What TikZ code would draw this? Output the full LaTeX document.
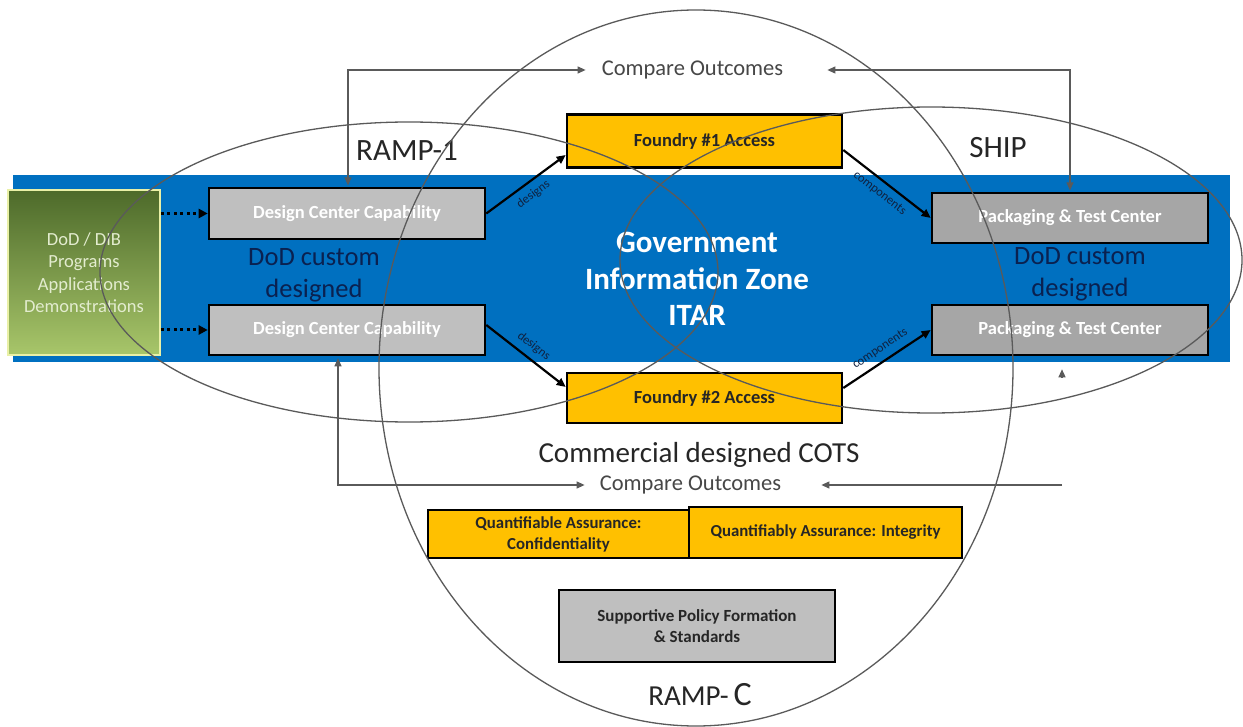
\documentclass[tikz,border=0pt]{standalone}
\usepackage{fontspec}
\setmainfont{Carlito}
\usetikzlibrary{arrows.meta,calc}
\definecolor{zoneblue}{HTML}{0070C0}
\definecolor{lgray}{HTML}{BFBFBF}
\definecolor{mgray}{HTML}{A6A6A6}
\definecolor{gold}{HTML}{FFC000}
\definecolor{navy}{HTML}{0A2150}
\definecolor{dkgreen}{HTML}{4D6A2A}
\definecolor{ltgreen}{HTML}{A8C66A}
\definecolor{pale}{HTML}{E3ECCF}
\definecolor{ink}{HTML}{262626}
\definecolor{lineg}{HTML}{5A5A5A}
\definecolor{lblc}{HTML}{10213F}
\begin{document}
\begin{tikzpicture}[x=1pt,y=-1pt,
  box/.style={draw=black, line width=2.6pt, inner sep=0pt, align=center,
    font=\bfseries\fontsize{18.5}{21}\selectfont},
  graybox/.style={box, fill=lgray, text=white},
  darkbox/.style={box, fill=mgray, text=white},
  goldbox/.style={box, fill=gold, text=ink},
  qbox/.style={box, line width=1.8pt, fill=gold, text=ink, font=\bfseries\fontsize{16.8}{21}\selectfont},
  polbox/.style={box, fill=lgray, text=ink, font=\bfseries\fontsize{17}{21}\selectfont},
  conn/.style={line width=2.2pt, draw=black, -{Triangle[length=9pt,width=8pt]}},
  dotarr/.style={line width=3pt, draw=black, dash pattern=on 3pt off 3.5pt, -{Triangle[length=9pt,width=9pt]}},
  garr/.style={line width=1.2pt, draw=lineg, {Triangle[length=8pt,width=7pt]}-{Triangle[length=8pt,width=7pt]}},
  garrone/.style={line width=1.2pt, draw=lineg, -{Triangle[length=8pt,width=7pt]}},
  ell/.style={draw=lineg, line width=1.3pt},
  lbl/.style={font=\fontsize{12.5}{13}\selectfont, text=lblc, inner sep=1pt},
  big/.style={font=\fontsize{31}{36}\selectfont, text=ink},
  cmp/.style={font=\fontsize{22.5}{26}\selectfont, text=ink!85, inner sep=0pt},
  dod/.style={font=\fontsize{26.5}{32}\selectfont, text=navy, align=center},
]
\useasboundingbox (0,0) rectangle (1243,727);
\fill[white] (0,0) rectangle (1243,727);

% blue zone
\node[fill=zoneblue, minimum width=1217pt, minimum height=187pt, inner sep=0pt] (zone) at (621.5,268.5) {};
\node[text=white, font=\bfseries\fontsize{31}{36.5}\selectfont, align=center] (gov) at (697,279) {Government\\Information Zone\\ITAR};

% green box
\node[draw=pale!80!yellow, line width=1.5pt, top color=dkgreen, middle color=dkgreen, bottom color=ltgreen,
      minimum width=152pt, minimum height=165pt, inner sep=0pt, align=center, text=pale,
      font=\fontsize{18.5}{22.5}\selectfont] (prog) at (84,272.5) {DoD / DIB\\Programs\\Applications\\Demonstrations};

% boxes
\node[graybox, minimum width=276pt, minimum height=51pt] (dc1) at (347,213.5) {Design Center Capability};
\node[graybox, minimum width=276pt, minimum height=50pt] (dc2) at (347,330) {Design Center Capability};
\node[goldbox, minimum width=275pt, minimum height=53pt] (f1) at (704.5,141) {Foundry \#1 Access};
\node[goldbox, minimum width=275pt, minimum height=50pt] (f2) at (704.5,398) {Foundry \#2 Access};
\node[darkbox, minimum width=276pt, minimum height=50pt] (p1) at (1070,218) {Packaging \& Test Center};
\node[darkbox, minimum width=276pt, minimum height=50pt] (p2) at (1070,330) {Packaging \& Test Center};
\node[qbox, minimum width=261pt, minimum height=48pt] (qa1) at (558.5,534) {Quantifiable Assurance:\\Confidentiality};
\node[qbox, minimum width=273pt, minimum height=51pt] (qa2) at (825.5,532.5) {Quantifiably Assurance: Integrity};
\node[polbox, minimum width=276pt, minimum height=72pt] (pol) at (697,626) {Supportive Policy Formation\\\& Standards};

% texts
\node[dod] (dodl) at (314,275) {DoD custom\\designed};
\node[dod] (dodr) at (1080,274) {DoD custom\\designed};
\node[big] (ramp1) at (407,151) {RAMP-1};
\node[big] (ship) at (998,148) {SHIP};
\node[font=\fontsize{29}{34}\selectfont, text=ink] (cots) at (699,455) {Commercial designed COTS};
\node[font=\fontsize{29}{34}\selectfont, text=ink] (rampc) at (700,695) {RAMP-\,{\fontsize{34}{36}\selectfont C}};
\node[cmp] (co1) at (692.5,70) {Compare Outcomes};
\node[cmp] (co2) at (690.5,485) {Compare Outcomes};

% dotted arrows
\draw[dotarr] (prog.east |- dc1.west) -- (dc1.west);
\draw[dotarr] (prog.east |- dc2.west) -- (dc2.west);

% design / component arrows
\draw[conn] (dc1.east) -- node[lbl, sloped, below=5pt]{designs} ($(f1.west)+(0,14)$);
\draw[conn] ($(dc2.east)+(0,-5)$) -- node[lbl, sloped, above=5pt]{designs} ($(f2.west)+(0,-11)$);
\draw[conn] ($(f1.east)+(0,9)$) -- node[lbl, sloped, below=5pt]{components} (p1.west);
\draw[conn] ($(f2.east)+(0,-10)$) -- node[lbl, sloped, above=5pt]{components} (p2.west);

% compare outcomes connectors
\draw[garr] ($(dc1.north)+(1,-1.3)$) |- ($(co1.west)+(-16,0)$);
\draw[garr] ($(p1.north)+(0,-1.3)$) |- ($(co1.east)+(44,0)$);
\draw[garr] ($(dc2.south)+(-9,2)$) |- ($(co2.west)+(-15,0)$);
\coordinate (cr) at (1062,485);
\draw[garrone] (cr) -- ($(co2.east)+(40,0)$);
\draw[garrone] ($(p2.south)+(-8,21)$) -- ($(p2.south)+(-8,13)$);

% ellipses on top
\draw[ell] (696,368) ellipse [x radius=317pt, y radius=358pt];
\draw[ell] (409,272) ellipse [x radius=309pt, y radius=150pt];
\draw[ell] (931,260) ellipse [x radius=311pt, y radius=153pt];
\end{tikzpicture}
\end{document}
